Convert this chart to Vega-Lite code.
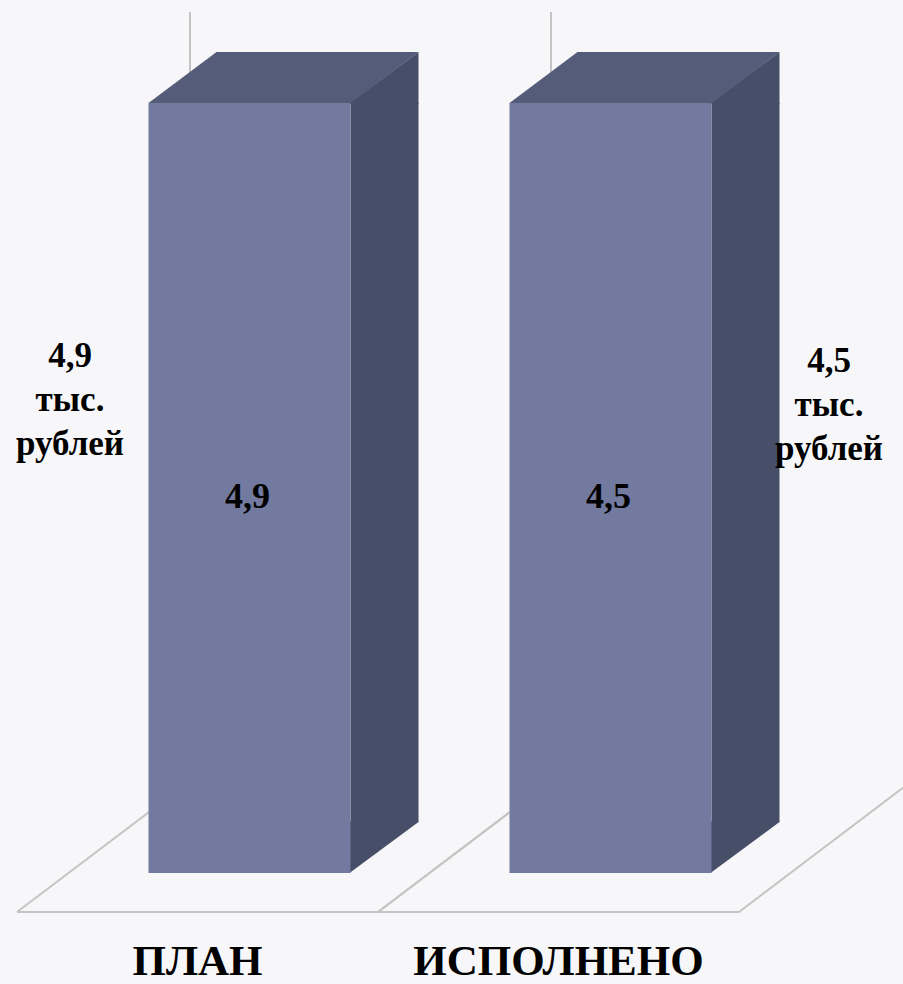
{
  "$schema": "https://vega.github.io/schema/vega-lite/v6.json",
  "width": 903,
  "height": 912,
  "autosize": {"type": "none"},
  "padding": {"left": 0, "top": 0, "right": 0, "bottom": 72},
  "background": "#f7f7f9",
  "config": {"view": {"stroke": null}},
  "data": {
    "values": [
      {"category": "ПЛАН", "value": 4.9, "label": "4,9", "note": "4,9\nтыс.\nрублей"},
      {"category": "ИСПОЛНЕНО", "value": 4.5, "label": "4,5", "note": "4,5\nтыс.\nрублей"}
    ]
  },
  "encoding": {
    "x": {
      "field": "category",
      "type": "nominal",
      "sort": ["ПЛАН", "ИСПОЛНЕНО"],
      "scale": {"type": "band", "range": [17, 739], "paddingInner": 0, "paddingOuter": 0},
      "axis": {
        "title": null, "domain": false, "ticks": false, "grid": false,
        "labelAngle": 0, "labelFont": "Liberation Serif", "labelFontSize": 43,
        "labelFontWeight": "bold", "labelColor": "#000000", "labelLimit": 0,
        "labelBaseline": "alphabetic", "labelPadding": 62
      }
    },
    "y": {
      "field": "value",
      "type": "quantitative",
      "scale": {"domain": [0, 4.5], "range": [873, 103], "clamp": true, "nice": false, "zero": true},
      "axis": null
    }
  },
  "layer": [
    {
      "mark": {"type": "point", "shape": "M0,39 L361,39 M0,39 L173,-92 L173,-861 M361,39 L534,-92", "size": 4, "filled": false, "stroke": "#c4c4c4", "strokeWidth": 2, "opacity": 1},
      "encoding": {
        "x": {"field": "category", "type": "nominal", "sort": ["ПЛАН", "ИСПОЛНЕНО"], "bandPosition": 0},
        "y": {"datum": 0}
      }
    },
    {
      "mark": {"type": "bar", "width": 68, "xOffset": 187, "color": "#474e68", "y2Offset": -51},
      "encoding": {"y2": {"datum": 0}}
    },
    {
      "mark": {"type": "point", "shape": "M152,1 L152,0 L221,-51 L221,1 Z", "size": 4, "filled": true, "color": "#474e68", "opacity": 1, "strokeWidth": 0}
    },
    {
      "mark": {"type": "point", "shape": "M152,-52 L221,-52 L221,-51 L152,0 Z", "size": 4, "filled": true, "color": "#474e68", "opacity": 1, "strokeWidth": 0},
      "encoding": {"y": {"datum": 0}}
    },
    {
      "mark": {"type": "point", "shape": "M-49,0 L153,0 L221,-51 L19,-51 Z", "size": 4, "filled": true, "color": "#555c7a", "opacity": 1, "strokeWidth": 0}
    },
    {
      "mark": {"type": "bar", "width": 202, "xOffset": 52, "color": "#727a9f"}
    },
    {
      "mark": {"type": "text", "font": "Liberation Serif", "fontSize": 36, "fontWeight": "bold", "color": "#000000", "baseline": "alphabetic", "align": "center", "dx": 50, "dy": 405},
      "encoding": {"text": {"field": "label"}}
    },
    {
      "transform": [{"filter": "datum.category === 'ПЛАН'"}],
      "mark": {"type": "text", "font": "Liberation Serif", "fontSize": 35, "fontWeight": "bold", "color": "#000000", "baseline": "alphabetic", "align": "center", "lineBreak": "\n", "lineHeight": 44, "dx": -127.5, "dy": 264},
      "encoding": {"text": {"field": "note"}}
    },
    {
      "transform": [{"filter": "datum.category === 'ИСПОЛНЕНО'"}],
      "mark": {"type": "text", "font": "Liberation Serif", "fontSize": 35, "fontWeight": "bold", "color": "#000000", "baseline": "alphabetic", "align": "center", "lineBreak": "\n", "lineHeight": 44, "dx": 270.5, "dy": 269},
      "encoding": {"text": {"field": "note"}}
    }
  ]
}
